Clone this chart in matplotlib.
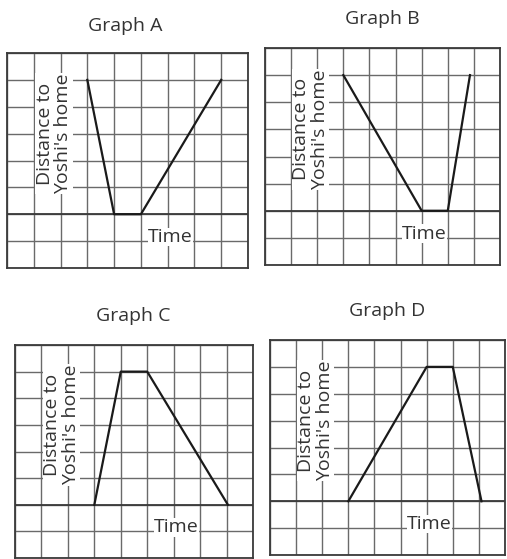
import matplotlib.pyplot as plt

# Graph titles and the segment vertices (grid units: time across, distance up)
graph_names = ["Graph A", "Graph B", "Graph C", "Graph D"]
a_time = [3, 4, 5, 8]
a_dist = [7, 2, 2, 7]
b_time = [3, 6, 7, 7.85]
b_dist = [7, 2, 2, 7]
c_time = [3, 4, 5, 8.05]
c_dist = [2, 7, 7, 2]
d_time = [3, 6, 7, 8.1]
d_dist = [2, 7, 7, 2]
y_label = "Distance to\nYoshi's home"
x_label = "Time"

series = [(a_time, a_dist), (b_time, b_dist), (c_time, c_dist), (d_time, d_dist)]

W, H = 507, 559
# pixel boxes (x0, y0, x1, y1) of each grid, and title centres
boxes = [(7, 53, 248, 268), (265, 48, 500, 265), (15, 345, 253, 558), (270, 340, 505, 555)]
titles_xy = [(125, 26), (382, 19), (133, 316), (387, 311)]

plt.rcParams['font.family'] = ['Open Sans', 'DejaVu Sans']
fig = plt.figure(figsize=(W / 100, H / 100), dpi=100)

for name, (t, d), (x0, y0, x1, y1), (tx, ty) in zip(graph_names, series, boxes, titles_xy):
    ax = fig.add_axes([x0 / W, 1 - y1 / H, (x1 - x0) / W, (y1 - y0) / H])
    ax.set_xlim(0, 9)
    ax.set_ylim(0, 8)
    ax.set_xticks(range(10))
    ax.set_yticks(range(9))
    ax.tick_params(length=0, labelbottom=False, labelleft=False)
    ax.grid(True, color='#6a6a6a', linewidth=1.0)
    for s in ax.spines.values():
        s.set_color('#3a3a3a')
        s.set_linewidth(1.3)
    # time axis drawn a little heavier
    ax.axhline(2, color='#3a3a3a', linewidth=1.3, zorder=2)
    ax.plot(t, d, color='#1a1a1a', linewidth=1.6, zorder=3)
    ax.text(1.75, 5.0, y_label, rotation=90, ha='center', va='center', fontsize=14,
            color='#333333', linespacing=1.05, zorder=4,
            bbox=dict(facecolor='white', edgecolor='none', pad=0.3))
    ax.text(6.1, 1.15, x_label, ha='center', va='center', fontsize=14,
            color='#333333', zorder=4,
            bbox=dict(facecolor='white', edgecolor='none', pad=0.3))
    fig.text(tx / W, 1 - ty / H, name, ha='center', va='center', fontsize=14, color='#333333')

fig.savefig("out.png", dpi=100)
